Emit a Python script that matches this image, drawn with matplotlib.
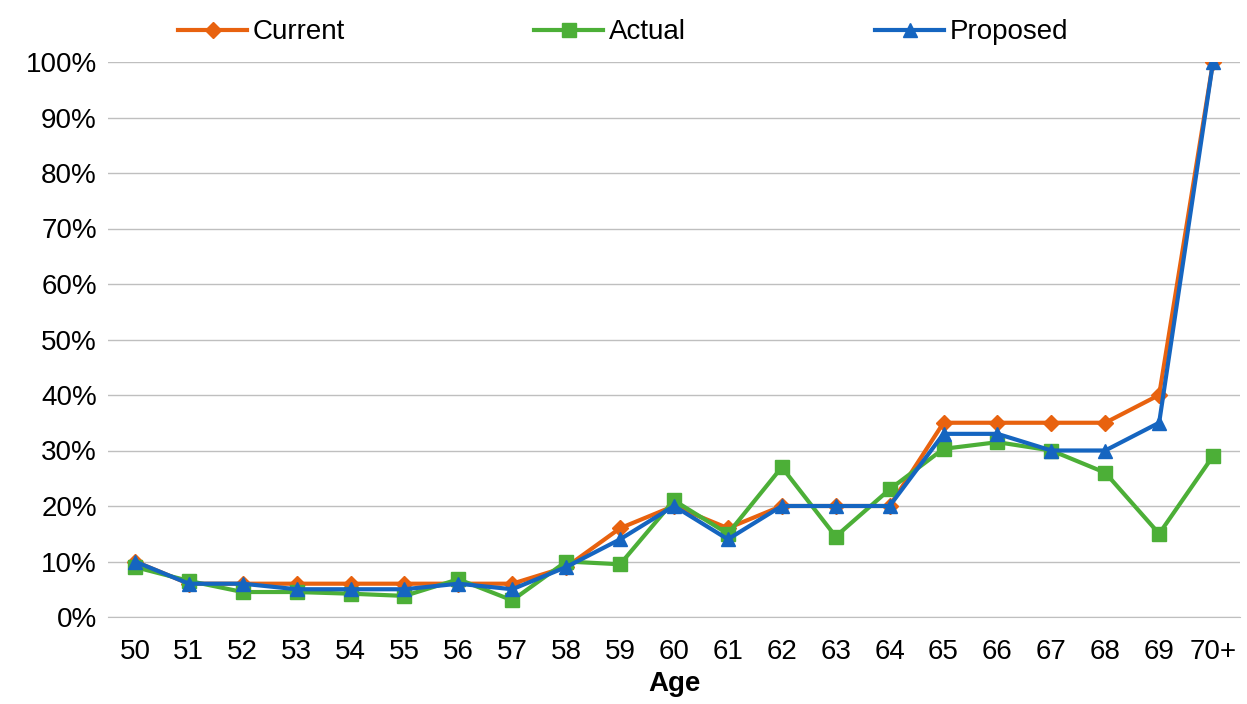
import matplotlib
matplotlib.use("Agg")
import matplotlib.pyplot as plt
from matplotlib.ticker import PercentFormatter

plt.rcParams["font.family"] = ["Liberation Sans", "DejaVu Sans"]

ages = ["50", "51", "52", "53", "54", "55", "56", "57", "58", "59", "60",
        "61", "62", "63", "64", "65", "66", "67", "68", "69", "70+"]
current = [10, 6, 6, 6, 6, 6, 6, 6, 9, 16, 20, 16, 20, 20, 20, 35, 35, 35, 35, 40, 100]
actual = [9, 6.5, 4.5, 4.5, 4.2, 3.8, 6.8, 3, 10, 9.5, 21, 15, 27, 14.5, 23, 30.3, 31.5, 30, 26, 15, 29]
proposed = [10, 6, 6, 5, 5, 5, 6, 5, 9, 14, 20, 14, 20, 20, 20, 33, 33, 30, 30, 35, 100]

fig = plt.figure(figsize=(12.47, 7.04), dpi=100)
ax = fig.add_axes([108 / 1247, 1 - 617 / 704, 1132 / 1247, 555 / 704])

x = range(len(ages))
ax.plot(x, current, color="#E8620F", marker="D", markersize=8, linewidth=3, label="Current")
ax.plot(x, actual, color="#4CAF37", marker="s", markersize=10, linewidth=3, label="Actual")
ax.plot(x, proposed, color="#1565C0", marker="^", markersize=10, linewidth=3, label="Proposed")

ax.set_ylim(0, 100)
ax.set_xlim(-0.5, len(ages) - 0.5)
ax.set_yticks(range(0, 101, 10))
ax.yaxis.set_major_formatter(PercentFormatter(decimals=0))
ax.set_xticks(list(x))
ax.set_xticklabels(ages)
ax.tick_params(labelsize=20, length=0)
ax.tick_params(axis="x", pad=16)
ax.tick_params(axis="y", pad=8)
ax.grid(axis="y", color="#BFBFBF", linewidth=1)
ax.set_axisbelow(True)
for s in ["top", "right", "left"]:
    ax.spines[s].set_visible(False)
ax.spines["bottom"].set_color("#BFBFBF")
ax.set_xlabel("Age", fontsize=20, fontweight="bold", labelpad=4)

ax.legend(loc="lower center", bbox_to_anchor=(0.455, 1.0), ncol=3, frameon=False,
          fontsize=20, columnspacing=6.8, handlelength=2.5, handletextpad=0.2,
          borderaxespad=0.2)

fig.savefig("out.png", dpi=100)
